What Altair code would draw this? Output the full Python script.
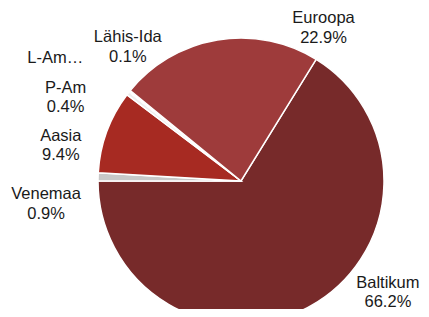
import altair as alt
import pandas as pd
import math

categories = ["Baltikum", "Venemaa", "Aasia", "P-Am", "L-Am", "Lähis-Ida", "Euroopa"]
values = [66.2, 0.9, 9.4, 0.4, 0.1, 0.1, 22.9]
labels_pct = ["66.2%", "0.9%", "9.4%", "0.4%", "", "0.1%", "22.9%"]
display_names = ["Baltikum", "Venemaa", "Aasia", "P-Am", "L-Am…", "Lähis-Ida", "Euroopa"]
colors = ["#772a2a", "#c8c8c8", "#a72a22", "#eeeeee", "#4a1c1c", "#f4f4f4", "#9e3b3b"]

df = pd.DataFrame({
    "cat": categories,
    "value": values,
    "pct": labels_pct,
    "name": display_names,
    "order": list(range(len(categories))),
})

start = math.radians(31.7)
theta_scale = alt.Scale(range=[start, start + 2 * math.pi])
CX, CY = 233, 173

base = alt.Chart(df)

pie = base.mark_arc(radius=143, stroke="white", strokeWidth=1.5).encode(
    theta=alt.Theta("value:Q", stack=True, scale=theta_scale),
    order=alt.Order("order:Q"),
    color=alt.Color("cat:N", scale=alt.Scale(domain=categories, range=colors), legend=None),
    x=alt.value(CX),
    y=alt.value(CY),
)

offsets = {
    "Baltikum": (69, -38),
    "Venemaa": (-35, 18),
    "Aasia": (-30, 10),
    "P-Am": (-49, 5),
    "L-Am": (-61, -23),
    "Lähis-Ida": (11, -43),
    "Euroopa": (109, -5),
}

layers = [pie]
for c in categories:
    dx, dy = offsets[c]
    t = base.transform_calculate(
        lbl="datum.pct == '' ? [datum.name] : [datum.name, datum.pct]"
    ).mark_text(
        radius=160, dx=dx, dy=dy, font="Liberation Sans", fontSize=16.5,
        lineHeight=19.5, color="#1a1a1a", align="center", baseline="middle",
    ).encode(
        theta=alt.Theta("value:Q", stack=True, scale=theta_scale),
        order=alt.Order("order:Q"),
        text=alt.condition(f"datum.cat == '{c}'", "lbl:N", alt.value("")),
        x=alt.value(CX),
        y=alt.value(CY),
    )
    layers.append(t)

chart = alt.layer(*layers).properties(
    width=413, height=301, autosize=alt.AutoSizeParams(type="none"), padding=0
).configure_view(stroke=None)

chart.save("out.html", embed_options={"renderer": "svg", "actions": False})
